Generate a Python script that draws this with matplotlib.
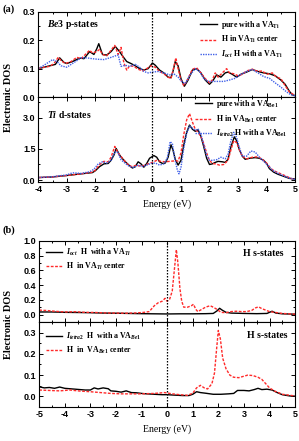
import matplotlib
matplotlib.use("Agg")
import matplotlib.pyplot as plt
from matplotlib.ticker import MultipleLocator

plt.rcParams.update({
    'font.family': 'Liberation Serif',
    'font.weight': 'bold',
    'mathtext.fontset': 'custom',
    'mathtext.rm': 'Liberation Serif:bold',
    'mathtext.it': 'Liberation Serif:bold:italic',
    'mathtext.bf': 'Liberation Serif:bold',
    'axes.unicode_minus': False,
    'axes.linewidth': 0.8,
})

# ---- panel (a), Be3 p-states ----
ap_x_black = [-4.0, -3.8, -3.6, -3.4, -3.25, -3.1, -3.0, -2.8, -2.6, -2.5, -2.4, -2.2, -2.05, -1.95, -1.88,
              -1.75, -1.6, -1.45, -1.3, -1.15, -1.05, -0.9, -0.75, -0.6, -0.45, -0.3, -0.15, 0.0, 0.1, 0.25,
              0.4, 0.55, 0.65, 0.72, 0.8, 0.9, 1.0, 1.12, 1.25, 1.4, 1.55, 1.7, 1.85, 2.0, 2.1, 2.25, 2.4,
              2.55, 2.65, 2.8, 2.95, 3.1, 3.3, 3.5, 3.7, 3.9, 4.1, 4.3, 4.5, 4.65, 4.8, 4.9, 5.0]
ap_black = [0.100, 0.105, 0.110, 0.115, 0.138, 0.122, 0.118, 0.125, 0.135, 0.137, 0.135, 0.160, 0.150, 0.170,
            0.188, 0.150, 0.148, 0.160, 0.178, 0.160, 0.145, 0.125, 0.118, 0.110, 0.100, 0.095, 0.100, 0.120,
            0.112, 0.095, 0.085, 0.070, 0.068, 0.090, 0.125, 0.110, 0.065, 0.038, 0.060, 0.095, 0.100, 0.085,
            0.060, 0.045, 0.055, 0.078, 0.070, 0.085, 0.088, 0.080, 0.070, 0.080, 0.088, 0.097, 0.090, 0.085,
            0.082, 0.075, 0.060, 0.045, 0.020, 0.008, 0.005]
ap_x_red = [-4.0, -3.8, -3.6, -3.45, -3.3, -3.2, -3.05, -2.85, -2.65, -2.5, -2.35, -2.2, -2.1, -1.95, -1.85,
            -1.75, -1.6, -1.45, -1.32, -1.2, -1.1, -1.0, -0.9, -0.8, -0.65, -0.5, -0.35, -0.2, -0.05, 0.1,
            0.25, 0.4, 0.55, 0.65, 0.75, 0.82, 0.9, 1.0, 1.1, 1.25, 1.4, 1.55, 1.7, 1.85, 2.0, 2.1, 2.2,
            2.3, 2.45, 2.6, 2.7, 2.85, 3.0, 3.15, 3.3, 3.5, 3.7, 3.85, 4.0, 4.2, 4.35, 4.5, 4.65, 4.8, 5.0]
ap_red = [0.100, 0.105, 0.108, 0.118, 0.140, 0.128, 0.118, 0.125, 0.140, 0.135, 0.150, 0.165, 0.155, 0.160,
          0.168, 0.150, 0.145, 0.165, 0.182, 0.150, 0.175, 0.120, 0.095, 0.110, 0.108, 0.098, 0.092, 0.100,
          0.110, 0.105, 0.090, 0.082, 0.070, 0.065, 0.105, 0.138, 0.100, 0.060, 0.040, 0.065, 0.098, 0.103,
          0.085, 0.065, 0.050, 0.060, 0.085, 0.070, 0.085, 0.100, 0.085, 0.082, 0.075, 0.080, 0.092, 0.098,
          0.090, 0.092, 0.080, 0.085, 0.070, 0.065, 0.040, 0.018, 0.005]
ap_x_blue = [-4.0, -3.8, -3.6, -3.5, -3.35, -3.2, -3.0, -2.85, -2.65, -2.5, -2.3, -2.1, -1.9, -1.7, -1.5,
             -1.3, -1.2, -1.1, -0.95, -0.8, -0.6, -0.45, -0.3, -0.15, 0.0, 0.2, 0.4, 0.6, 0.75, 0.9, 1.05,
             1.15, 1.3, 1.5, 1.65, 1.8, 1.95, 2.1, 2.3, 2.5, 2.7, 2.9, 3.1, 3.3, 3.5, 3.7, 3.9, 4.1, 4.3,
             4.5, 4.7, 4.85, 5.0]
ap_blue = [0.100, 0.112, 0.125, 0.132, 0.125, 0.110, 0.105, 0.115, 0.128, 0.138, 0.138, 0.135, 0.133, 0.132,
           0.138, 0.145, 0.148, 0.108, 0.112, 0.108, 0.115, 0.105, 0.090, 0.085, 0.088, 0.090, 0.085, 0.078,
           0.082, 0.070, 0.052, 0.048, 0.075, 0.100, 0.090, 0.065, 0.055, 0.055, 0.055, 0.055, 0.060, 0.066,
           0.080, 0.090, 0.097, 0.085, 0.072, 0.066, 0.050, 0.035, 0.018, 0.008, 0.004]

# ---- panel (a), Ti d-states ----
ad_x_black = [-4.0, -3.5, -3.0, -2.5, -2.1, -2.0, -1.85, -1.7, -1.55, -1.45, -1.35, -1.27, -1.15, -1.0, -0.85,
              -0.7, -0.6, -0.5, -0.4, -0.3, -0.2, -0.1, 0.05, 0.15, 0.25, 0.35, 0.45, 0.55, 0.65, 0.72, 0.8,
              0.9, 1.0, 1.1, 1.2, 1.3, 1.4, 1.5, 1.6, 1.7, 1.8, 1.9, 2.0, 2.1, 2.2, 2.3, 2.45, 2.55, 2.65,
              2.75, 2.87, 2.95, 3.05, 3.15, 3.25, 3.4, 3.6, 3.75, 3.9, 4.0, 4.1, 4.25, 4.4, 4.6, 4.8, 5.0]
ad_black = [0.12, 0.15, 0.22, 0.30, 0.36, 0.45, 0.65, 0.78, 0.80, 0.95, 1.20, 1.52, 1.20, 0.95, 0.75, 0.58,
            0.65, 0.88, 0.78, 0.62, 0.80, 1.05, 1.18, 1.10, 0.88, 0.80, 0.82, 1.10, 1.70, 1.45, 1.00, 0.72,
            0.95, 1.70, 2.30, 2.65, 2.45, 2.35, 2.42, 2.10, 1.60, 1.05, 0.75, 0.78, 0.85, 0.90, 0.88, 0.85,
            1.00, 1.60, 2.08, 1.90, 1.45, 1.15, 1.00, 1.05, 1.08, 1.05, 0.95, 0.80, 0.55, 0.38, 0.28, 0.18,
            0.08, 0.05]
ad_x_red = [-4.0, -3.5, -3.0, -2.5, -2.1, -2.0, -1.85, -1.7, -1.55, -1.45, -1.32, -1.2, -1.05, -0.9, -0.75,
            -0.6, -0.45, -0.3, -0.15, 0.0, 0.15, 0.3, 0.45, 0.6, 0.75, 0.9, 1.0, 1.1, 1.2, 1.3, 1.4, 1.5,
            1.6, 1.7, 1.8, 1.9, 2.0, 2.1, 2.2, 2.35, 2.5, 2.65, 2.75, 2.85, 2.95, 3.05, 3.15, 3.3, 3.5, 3.7,
            3.85, 4.0, 4.15, 4.3, 4.5, 4.7, 4.85, 5.0]
ad_red = [0.12, 0.15, 0.22, 0.30, 0.38, 0.48, 0.75, 0.90, 0.88, 1.10, 1.62, 1.30, 1.05, 0.80, 0.65, 0.70,
          0.68, 0.70, 0.78, 0.85, 0.95, 0.90, 0.88, 0.90, 0.92, 0.92, 1.30, 2.20, 2.90, 3.20, 2.80, 2.45,
          2.30, 2.10, 1.75, 1.30, 0.95, 0.80, 0.78, 0.72, 0.75, 0.95, 1.45, 1.90, 1.80, 1.45, 1.15, 1.02,
          1.10, 1.12, 1.00, 0.82, 0.55, 0.42, 0.30, 0.18, 0.08, 0.04]
ad_x_blue = [-4.0, -3.5, -3.0, -2.8, -2.5, -2.2, -2.05, -1.9, -1.75, -1.6, -1.45, -1.32, -1.22, -1.1, -0.95,
             -0.8, -0.65, -0.5, -0.35, -0.2, -0.05, 0.1, 0.25, 0.4, 0.52, 0.62, 0.7, 0.78, 0.87, 0.93, 1.0,
             1.1, 1.2, 1.3, 1.4, 1.5, 1.6, 1.7, 1.8, 1.9, 2.0, 2.1, 2.25, 2.4, 2.55, 2.65, 2.75, 2.85, 2.95,
             3.05, 3.15, 3.3, 3.45, 3.6, 3.75, 3.9, 4.05, 4.2, 4.4, 4.6, 4.8, 5.0]
ad_blue = [0.12, 0.16, 0.25, 0.35, 0.32, 0.40, 0.52, 0.78, 0.88, 0.82, 0.95, 1.35, 1.35, 0.98, 0.80, 0.65,
           0.60, 0.72, 0.65, 0.72, 0.80, 0.82, 0.72, 0.78, 1.05, 1.85, 1.75, 1.05, 0.50, 0.30, 0.60, 1.55,
           2.25, 2.60, 2.50, 2.40, 2.45, 2.20, 1.70, 1.20, 0.95, 0.95, 0.98, 1.10, 1.02, 1.25, 1.90, 2.30,
           2.05, 1.55, 1.15, 1.15, 1.40, 1.35, 1.10, 0.90, 0.70, 0.48, 0.32, 0.20, 0.10, 0.03]

# ---- panel (b), H s-states in VA_Ti ----
bt_x_black = [-5.0, -4.5, -4.0, -3.5, -3.0, -2.5, -2.0, -1.5, -1.0, -0.5, 0.0, 0.5, 1.0, 1.5, 1.8, 1.95,
              2.05, 2.15, 2.3, 2.5, 3.0, 3.5, 3.9, 4.1, 4.25, 4.5, 5.0]
bt_black = [0.035, 0.035, 0.030, 0.028, 0.025, 0.020, 0.018, 0.015, 0.012, 0.010, 0.008, 0.010, 0.010, 0.012,
            0.015, 0.050, 0.085, 0.060, 0.030, 0.020, 0.015, 0.012, 0.015, 0.045, 0.020, 0.010, 0.005]
bt_x_red = [-5.0, -4.7, -4.4, -4.0, -3.6, -3.2, -2.8, -2.4, -2.0, -1.6, -1.2, -0.9, -0.7, -0.5, -0.35, -0.2,
            -0.08, 0.0, 0.1, 0.2, 0.28, 0.36, 0.42, 0.5, 0.57, 0.65, 0.8, 0.95, 1.03, 1.12, 1.2, 1.35, 1.5,
            1.68, 1.8, 1.95, 2.1, 2.3, 2.5, 2.7, 2.9, 3.1, 3.3, 3.45, 3.57, 3.7, 3.85, 4.0, 4.2, 4.5, 5.0]
bt_red = [0.060, 0.055, 0.045, 0.035, 0.038, 0.030, 0.028, 0.022, 0.020, 0.018, 0.022, 0.030, 0.040, 0.120,
          0.160, 0.180, 0.220, 0.180, 0.210, 0.320, 0.600, 0.880, 0.700, 0.350, 0.180, 0.100, 0.100, 0.120,
          0.140, 0.070, 0.040, 0.070, 0.100, 0.120, 0.100, 0.070, 0.030, 0.025, 0.040, 0.045, 0.040, 0.040,
          0.055, 0.090, 0.105, 0.080, 0.060, 0.040, 0.030, 0.015, 0.005]

# ---- panel (b), H s-states in VA_Be1 ----
bb_x_black = [-5.0, -4.8, -4.6, -4.4, -4.2, -4.0, -3.8, -3.6, -3.4, -3.2, -3.0, -2.85, -2.7, -2.5, -2.3,
              -2.2, -2.0, -1.8, -1.6, -1.4, -1.2, -1.0, -0.8, -0.5, -0.2, 0.0, 0.3, 0.6, 0.85, 1.0, 1.15,
              1.3, 1.5, 1.8, 2.1, 2.4, 2.6, 2.75, 3.0, 3.2, 3.4, 3.55, 3.7, 3.9, 4.1, 4.3, 4.5, 4.8, 5.0]
bb_black = [0.045, 0.040, 0.042, 0.038, 0.044, 0.038, 0.036, 0.034, 0.032, 0.030, 0.030, 0.040, 0.035, 0.040,
            0.036, 0.026, 0.024, 0.020, 0.026, 0.018, 0.017, 0.014, 0.012, 0.010, 0.008, 0.008, 0.006, 0.004,
            0.004, 0.010, 0.022, 0.018, 0.015, 0.010, 0.010, 0.012, 0.014, 0.028, 0.028, 0.026, 0.032, 0.038,
            0.032, 0.034, 0.030, 0.018, 0.008, 0.002, 0.001]
bb_x_red = [-5.0, -4.6, -4.2, -3.8, -3.4, -3.0, -2.6, -2.2, -1.8, -1.4, -1.0, -0.5, -0.1, 0.2, 0.5, 0.8, 1.0,
            1.15, 1.3, 1.45, 1.58, 1.75, 1.85, 1.93, 2.0, 2.08, 2.17, 2.3, 2.45, 2.6, 2.8, 3.0, 3.15, 3.35,
            3.55, 3.7, 3.85, 4.0, 4.2, 4.5, 5.0]
bb_red = [0.030, 0.028, 0.026, 0.030, 0.025, 0.022, 0.018, 0.014, 0.012, 0.012, 0.012, 0.014, 0.018, 0.012,
          0.008, 0.005, 0.015, 0.040, 0.052, 0.040, 0.035, 0.060, 0.110, 0.220, 0.310, 0.270, 0.180, 0.130,
          0.100, 0.090, 0.088, 0.095, 0.100, 0.098, 0.090, 0.080, 0.060, 0.040, 0.025, 0.010, 0.002]

RED = '#ff2a2a'
BLUE = '#4060e8'
red_ls = (0, (2.0, 1.1))
blue_ls = (0, (1, 0.8))
TICK_FAM = 'Liberation Sans'
TICK_SIZE = 6.5

fig = plt.figure(figsize=(2.99, 4.41), dpi=100)
L, W = 0.128, 0.859
ax1 = fig.add_axes([L, 0.780, W, 0.193])
ax2 = fig.add_axes([L, 0.587, W, 0.193])
ax3 = fig.add_axes([0.131, 0.270, 0.856, 0.184])
ax4 = fig.add_axes([0.131, 0.077, 0.856, 0.193])


def style(ax, xlim, ylim, ymaj, ymin, yticks, xlabels=True):
    ax.set_xlim(*xlim)
    ax.set_ylim(*ylim)
    ax.xaxis.set_major_locator(MultipleLocator(1))
    ax.xaxis.set_minor_locator(MultipleLocator(0.5))
    ax.yaxis.set_minor_locator(MultipleLocator(ymin))
    ax.set_yticks(yticks)
    ax.set_yticklabels([f'{t:.1f}' for t in yticks], fontfamily=TICK_FAM, fontweight='bold',
                       fontsize=TICK_SIZE)
    ax.tick_params(which='both', direction='in', top=True, right=True, width=0.7, pad=2)
    ax.tick_params(which='major', length=3)
    ax.tick_params(which='minor', length=1.6)
    for lab in ax.get_xticklabels():
        lab.set_fontfamily(TICK_FAM)
        lab.set_fontweight('bold')
        lab.set_fontsize(TICK_SIZE)
    if not xlabels:
        ax.tick_params(labelbottom=False)
    ax.axvline(0, color='black', ls=(0, (1.2, 1.2)), lw=0.9)


lw = 1.0
leg_kw = dict(frameon=False, fontsize=5.7, handlelength=2.1, handletextpad=0.5, labelspacing=0.45,
              borderpad=0, borderaxespad=0)

# (a) top
ax1.plot(ap_x_black, ap_black, color='black', lw=lw, label=r'pure with a VA$_{\mathrm{Ti}}$')
ax1.plot(ap_x_red, ap_red, color=RED, lw=lw, ls=red_ls, label=r'H in VA$_{\mathrm{Ti}}$ center')
ax1.plot(ap_x_blue, ap_blue, color=BLUE, lw=lw, ls=blue_ls, label=r'$I_{oct}$ H with a VA$_{\mathrm{Ti}}$')
style(ax1, (-4, 5), (0, 0.3), 0.1, 0.05, [0.0, 0.1, 0.2, 0.3], xlabels=False)
ax1.legend(loc='upper right', bbox_to_anchor=(0.95, 0.92), **leg_kw)
ax1.text(0.035, 0.85, r'$\mathit{Be3}$ p-states', transform=ax1.transAxes, fontsize=7, va='center')

# (a) bottom
ax2.plot(ad_x_black, ad_black, color='black', lw=lw, label=r'pure with a VA$_{\mathrm{Be1}}$')
ax2.plot(ad_x_red, ad_red, color=RED, lw=lw, ls=red_ls, label=r'H in VA$_{\mathrm{Be1}}$ center')
ax2.plot(ad_x_blue, ad_blue, color=BLUE, lw=lw, ls=blue_ls, label=r'$I_{tetra2}$ H with a VA$_{\mathrm{Be1}}$')
style(ax2, (-4, 5), (-0.1, 4.0), 1.5, 0.75, [0.0, 1.5, 3.0])
ax2.legend(loc='upper right', bbox_to_anchor=(0.97, 0.99), **leg_kw)
ax2.text(0.035, 0.79, r'$\mathit{Ti}$ d-states', transform=ax2.transAxes, fontsize=7, va='center')
ax2.set_xlabel('Energy (eV)', fontsize=7, labelpad=4)

# (b) top
ax3.plot(bt_x_black, bt_black, color='black', lw=lw, label=r'$I_{oct}$  H  with a VA$_{Ti}$')
ax3.plot(bt_x_red, bt_red, color=RED, lw=lw, ls=red_ls, label=r'H  in VA$_{Ti}$ center')
style(ax3, (-5, 5), (-0.1, 1.0), 0.2, 0.1, [0.0, 0.2, 0.4, 0.6, 0.8, 1.0], xlabels=False)
ax3.legend(loc='upper left', bbox_to_anchor=(0.025, 0.93), **leg_kw)
ax3.text(0.955, 0.84, 'H s-states', transform=ax3.transAxes, fontsize=7, ha='right', va='center')

# (b) bottom
ax4.plot(bb_x_black, bb_black, color='black', lw=lw, label=r'$I_{tetra2}$  H  with a VA$_{Be1}$')
ax4.plot(bb_x_red, bb_red, color=RED, lw=lw, ls=red_ls, label=r'H  in  VA$_{Be1}$ center')
style(ax4, (-5, 5), (-0.05, 0.35), 0.1, 0.05, [0.0, 0.1, 0.2, 0.3])
ax4.legend(loc='upper left', bbox_to_anchor=(0.025, 0.9), **leg_kw)
ax4.text(0.97, 0.835, 'H s-states', transform=ax4.transAxes, fontsize=7, ha='right', va='center')
ax4.set_xlabel('Energy (eV)', fontsize=7, labelpad=4)

fig.text(0.027, 0.78, 'Electronic DOS', rotation=90, va='center', ha='center', fontsize=7.5)
fig.text(0.027, 0.265, 'Electronic DOS', rotation=90, va='center', ha='center', fontsize=7.5)
fig.text(0.008, 0.99, '(a)', fontsize=7.5, va='top')
fig.text(0.008, 0.488, '(b)', fontsize=7.5, va='top')

fig.savefig('out.png', dpi=100)
